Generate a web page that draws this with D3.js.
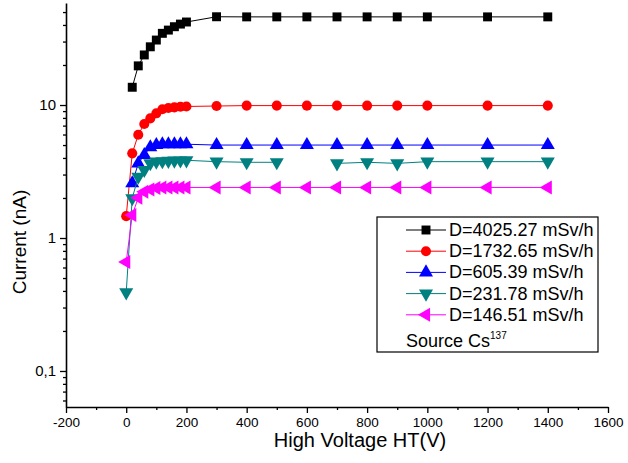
<!DOCTYPE html>
<html>
<head>
<meta charset="utf-8">
<script src="https://cdn.jsdelivr.net/npm/d3@7"></script>
<style>
  body { margin: 0; background: #fff; }
  svg { font-family: "Liberation Sans", Arial, sans-serif; }
</style>
</head>
<body>
<div id="chart"></div>
<script>
// HT voltage steps (V)
var voltage = [0, 20, 40, 60, 80, 100, 120, 140, 160, 180, 200, 300, 400, 500, 600, 700, 800, 900, 1000, 1200, 1400];

// currents (nA) per dose rate, null = not measured
var d4025 = [null, 13.6, 19.7, 23.8, 27.4, 30.8, 34.6, 36.6, 38.8, 40.6, 42.1, 46.1, 46, 46, 46, 46, 46, 46, 46, 46, 46];
var d1732 = [1.46, 4.33, 5.98, 7.2, 7.94, 8.66, 9.29, 9.5, 9.6, 9.7, 9.75, 9.83, 9.9, 9.9, 9.9, 9.9, 9.9, 9.9, 9.9, 9.9, 9.9];
var d605 = [null, 2.58, 3.64, 4.21, 4.81, 5.0, 5.07, 5.07, 5.07, 5.07, 5.07, 5.0, 5.0, 5.0, 5.0, 5.0, 5.0, 5.0, 5.0, 5.0, 5.0];
var d231 = [0.39, 1.99, 2.89, 3.25, 3.65, 3.75, 3.78, 3.8, 3.82, 3.83, 3.84, 3.75, 3.71, 3.71, null, 3.64, 3.71, 3.64, 3.75, 3.75, 3.75];
var d146 = [0.66, 1.49, 2.01, 2.23, 2.32, 2.38, 2.4, 2.4, 2.4, 2.4, 2.4, 2.4, 2.4, 2.4, 2.4, 2.4, 2.4, 2.4, 2.4, 2.4, 2.4];

var seriesNames = ["D=4025.27 mSv/h", "D=1732.65 mSv/h", "D=605.39 mSv/h", "D=231.78 mSv/h", "D=146.51 mSv/h"];

var xTicks = [-200, 0, 200, 400, 600, 800, 1000, 1200, 1400, 1600];
var yTicks = [0.1, 1, 10];
var yTickLabels = ["0,1", "1", "10"];

var width = 628, height = 463;
var font = "Liberation Sans, Arial, sans-serif";

var series = [
  {name: seriesNames[0], values: d4025, color: "#000000", symbol: d3.symbolSquare, size: 80, rot: 0},
  {name: seriesNames[1], values: d1732, color: "#ff0000", symbol: d3.symbolCircle, size: 80, rot: 0},
  {name: seriesNames[2], values: d605, color: "#0000ff", symbol: d3.symbolTriangle, size: 85, rot: 0},
  {name: seriesNames[3], values: d231, color: "#008080", symbol: d3.symbolTriangle, size: 85, rot: 180},
  {name: seriesNames[4], values: d146, color: "#ff00ff", symbol: d3.symbolTriangle, size: 85, rot: -90}
];

var svg = d3.select("#chart").append("svg")
  .attr("width", width).attr("height", height);

var x = d3.scaleLinear().domain([-200, 1600]).range([66, 608]);
var y = d3.scaleLog().domain([0.0536, 58.5]).range([407, 3]);

// x axis: major + minor ticks
var xMinor = d3.range(-100, 1600, 200);
svg.append("g")
  .attr("transform", "translate(0,407)")
  .call(d3.axisBottom(x).tickValues(xMinor).tickSize(3).tickFormat("").tickSizeOuter(0))
  .call(g => g.select(".domain").remove());
var gx = svg.append("g")
  .attr("transform", "translate(0,407)")
  .call(d3.axisBottom(x).tickValues(xTicks).tickSize(6).tickSizeOuter(0).tickPadding(4)
    .tickFormat(d => String(d)));
gx.selectAll("text").attr("font-size", 13.5).attr("fill", "#000").attr("font-family", font);

// y axis: log, major + minor ticks
var yMinor = [];
[0.01, 0.1, 1, 10].forEach(function(dec) {
  for (var k = 2; k <= 9; k++) {
    var v = k * dec;
    if (v > y.domain()[0] && v < y.domain()[1]) yMinor.push(v);
  }
});
svg.append("g")
  .attr("transform", "translate(66,0)")
  .call(d3.axisLeft(y).tickValues(yMinor).tickSize(3).tickFormat("").tickSizeOuter(0))
  .call(g => g.select(".domain").remove());
var gy = svg.append("g")
  .attr("transform", "translate(66,0)")
  .call(d3.axisLeft(y).tickValues(yTicks).tickSize(6).tickSizeOuter(0).tickPadding(4)
    .tickFormat((d, i) => yTickLabels[i]));
gy.selectAll("text").attr("font-size", 15).attr("fill", "#000").attr("font-family", font);

svg.selectAll(".domain").attr("stroke", "#000").attr("stroke-width", 1.6);
svg.selectAll(".tick line").attr("stroke", "#000").attr("stroke-width", 1.3);

// axis titles
svg.append("text")
  .attr("x", 360).attr("y", 447)
  .attr("text-anchor", "middle")
  .attr("font-size", 20)
  .text("High Voltage HT(V)");

svg.append("text")
  .attr("transform", "translate(26,242) rotate(-90)")
  .attr("text-anchor", "middle")
  .attr("font-size", 19)
  .text("Current (nA)");

// lines and markers
var line = d3.line()
  .defined(d => d[1] != null)
  .x(d => x(d[0]))
  .y(d => y(d[1]));

series.forEach(function(s) {
  var pts = voltage.map((v, i) => [v, s.values[i]]);
  svg.append("path")
    .datum(pts)
    .attr("fill", "none")
    .attr("stroke", s.color)
    .attr("stroke-width", 1)
    .attr("d", line);
  svg.append("g").selectAll("path")
    .data(pts.filter(d => d[1] != null))
    .join("path")
    .attr("transform", d => `translate(${x(d[0])},${y(d[1])}) rotate(${s.rot})`)
    .attr("d", d3.symbol().type(s.symbol).size(s.size))
    .attr("fill", s.color);
});

// legend
var lg = svg.append("g");
lg.append("rect")
  .attr("x", 377).attr("y", 217).attr("width", 221).attr("height", 135)
  .attr("fill", "#fff").attr("stroke", "#000").attr("stroke-width", 1.2);

series.forEach(function(s, i) {
  var ly = 230 + i * 21.2;
  lg.append("line")
    .attr("x1", 406).attr("x2", 446).attr("y1", ly).attr("y2", ly)
    .attr("stroke", s.color).attr("stroke-width", 1);
  lg.append("path")
    .attr("transform", `translate(426,${ly}) rotate(${s.rot})`)
    .attr("d", d3.symbol().type(s.symbol).size(s.size))
    .attr("fill", s.color);
  lg.append("text")
    .attr("x", 449).attr("y", ly + 6)
    .attr("font-size", 18)
    .text(s.name);
});

var src = lg.append("text")
  .attr("x", 406).attr("y", 347)
  .attr("font-size", 18);
src.append("tspan").text("Source Cs");
src.append("tspan").attr("dy", -8).attr("font-size", 10).text("137");
</script>
</body>
</html>
